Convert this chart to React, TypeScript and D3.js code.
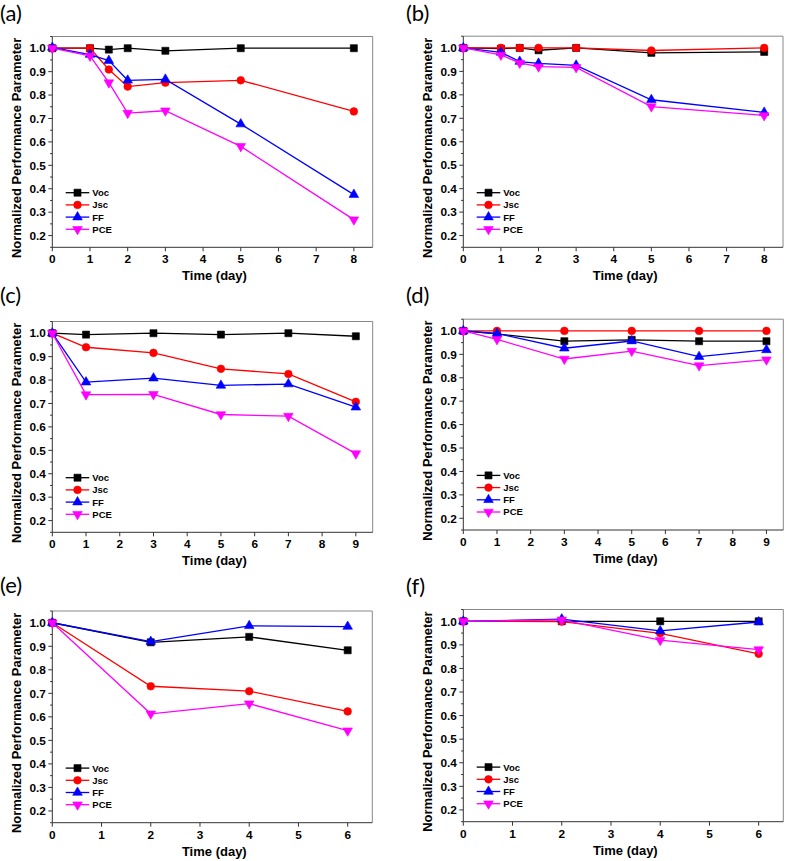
import React from 'react';
import * as d3 from 'd3';

// ---------- data ----------
const seriesNames = ['Voc', 'Jsc', 'FF', 'PCE'];
const seriesColors = ['#000000', '#ff0000', '#0000ff', '#ff00ff'];
const seriesSymbols = ['square', 'circle', 'triangle', 'triangleDown'];

const daysA = [0, 1, 1.5, 2, 3, 5, 8];
const vocA = [1.0, 1.0, 0.994, 1.0, 0.989, 1.0, 1.0];
const jscA = [1.0, 1.0, 0.909, 0.836, 0.853, 0.863, 0.73];
const ffA = [1.003, 0.973, 0.947, 0.863, 0.867, 0.676, 0.375];
const pceA = [1.0, 0.967, 0.853, 0.723, 0.733, 0.581, 0.268];

const daysB = [0, 1, 1.5, 2, 3, 5, 8];
const vocB = [1.0, 0.997, 1.0, 0.99, 1.0, 0.979, 0.983];
const jscB = [1.0, 1.0, 1.0, 1.0, 1.0, 0.989, 1.0];
const ffB = [1.0, 0.981, 0.942, 0.934, 0.926, 0.779, 0.725];
const pceB = [1.0, 0.97, 0.936, 0.92, 0.917, 0.75, 0.712];

const daysC = [0, 1, 3, 5, 7, 9];
const vocC = [1.0, 0.994, 1.0, 0.994, 1.0, 0.987];
const jscC = [1.0, 0.94, 0.916, 0.848, 0.826, 0.707];
const ffC = [1.0, 0.791, 0.808, 0.777, 0.783, 0.684];
const pceC = [1.0, 0.738, 0.739, 0.653, 0.646, 0.486];

const daysD = [0, 1, 3, 5, 7, 9];
const vocD = [1.0, 0.987, 0.956, 0.962, 0.956, 0.956];
const jscD = [1.0, 1.0, 1.0, 1.0, 1.0, 1.0];
const ffD = [1.0, 0.989, 0.926, 0.957, 0.89, 0.919];
const pceD = [1.0, 0.964, 0.88, 0.914, 0.852, 0.877];

const daysE = [0, 2, 4, 6];
const vocE = [1.0, 0.917, 0.94, 0.883];
const jscE = [1.0, 0.73, 0.709, 0.623];
const ffE = [1.0, 0.92, 0.987, 0.984];
const pceE = [1.0, 0.613, 0.656, 0.541];

const daysF = [0, 2, 4, 6];
const vocF = [1.0, 1.0, 1.0, 1.0];
const jscF = [1.0, 0.999, 0.949, 0.862];
const ffF = [1.0, 1.009, 0.959, 0.997];
const pceF = [1.0, 1.006, 0.92, 0.88];

const yTicks = [0.2, 0.3, 0.4, 0.5, 0.6, 0.7, 0.8, 0.9, 1.0];
const yDomain = [0.15, 1.05];
const xLabel = 'Time (day)';
const yLabel = 'Normalized Performance Parameter';

const panelData = [
  { tag: '(a)', days: daysA, series: [vocA, jscA, ffA, pceA], xMax: 8.5, xTicks: [0, 1, 2, 3, 4, 5, 6, 7, 8] },
  { tag: '(b)', days: daysB, series: [vocB, jscB, ffB, pceB], xMax: 8.5, xTicks: [0, 1, 2, 3, 4, 5, 6, 7, 8] },
  { tag: '(c)', days: daysC, series: [vocC, jscC, ffC, pceC], xMax: 9.5, xTicks: [0, 1, 2, 3, 4, 5, 6, 7, 8, 9] },
  { tag: '(d)', days: daysD, series: [vocD, jscD, ffD, pceD], xMax: 9.5, xTicks: [0, 1, 2, 3, 4, 5, 6, 7, 8, 9] },
  { tag: '(e)', days: daysE, series: [vocE, jscE, ffE, pceE], xMax: 6.5, xTicks: [0, 1, 2, 3, 4, 5, 6] },
  { tag: '(f)', days: daysF, series: [vocF, jscF, ffF, pceF], xMax: 6.5, xTicks: [0, 1, 2, 3, 4, 5, 6] },
];

// ---------- layout ----------
const layout = [
  { x0: 52.3, x1: 372.7, y0: 36.5, y1: 247.3, tx: 0, ty: 21 },
  { x0: 463.3, x1: 783, y0: 36.2, y1: 247.3, tx: 406, ty: 21 },
  { x0: 52.3, x1: 372.7, y0: 321.5, y1: 532.3, tx: 0, ty: 303 },
  { x0: 463.3, x1: 783.3, y0: 319.2, y1: 530, tx: 406, ty: 303 },
  { x0: 52.3, x1: 372.3, y0: 611, y1: 822.7, tx: 0, ty: 593 },
  { x0: 463.3, x1: 783.3, y0: 609.5, y1: 821.7, tx: 406, ty: 594 },
];

const FONT = "'Liberation Sans', Arial, sans-serif";

function symbolPath(kind: string) {
  if (kind === 'square') return d3.symbol(d3.symbolSquare, 50)() as string;
  if (kind === 'circle') return d3.symbol(d3.symbolCircle, 46)() as string;
  return d3.symbol(d3.symbolTriangle, 40)() as string;
}

function Marker({ kind, x, y, color }: { kind: string; x: number; y: number; color: string }) {
  const rot = kind === 'triangleDown' ? 180 : 0;
  return (
    <path
      d={symbolPath(kind)}
      transform={`translate(${x},${y}) rotate(${rot})`}
      fill={color}
      stroke={color}
      strokeWidth={0.6}
    />
  );
}

function Panel({ p, l }: { p: typeof panelData[number]; l: typeof layout[number] }) {
  const x = d3.scaleLinear().domain([0, p.xMax]).range([l.x0, l.x1]);
  const y = d3.scaleLinear().domain(yDomain).range([l.y1, l.y0]);
  const line = d3
    .line<[number, number]>()
    .x((d) => x(d[0]))
    .y((d) => y(d[1]));
  const minorY = d3.range(0.15, 1.0501, 0.05).filter((v) => !yTicks.some((t) => Math.abs(t - v) < 1e-6));
  const legendRowY = (i: number) => l.y1 - 54.6 + i * 12.2;
  const legX0 = l.x0 + 13.4;
  const legX1 = l.x0 + 37;
  const legMx = (legX0 + legX1) / 2;
  const midY = (l.y0 + l.y1) / 2;

  return (
    <g>
      <text x={l.tx} y={l.ty} fontFamily="Lato, 'Open Sans', sans-serif" fontSize={22} fill="#000">
        {p.tag}
      </text>
      {/* frame */}
      <line x1={l.x0} x2={l.x1} y1={l.y0} y2={l.y0} stroke="#888" strokeWidth={1} />
      <line x1={l.x1} x2={l.x1} y1={l.y0} y2={l.y1} stroke="#888" strokeWidth={1} />
      <line x1={l.x0} x2={l.x0} y1={l.y0} y2={l.y1} stroke="#333" strokeWidth={1} />
      <line x1={l.x0} x2={l.x1} y1={l.y1} y2={l.y1} stroke="#333" strokeWidth={1} />
      {/* y ticks */}
      {yTicks.map((t) => (
        <g key={'yt' + t}>
          <line x1={l.x0 - 4} x2={l.x0} y1={y(t)} y2={y(t)} stroke="#333" strokeWidth={1} />
          <text
            x={l.x0 - 6.5}
            y={y(t)}
            dy="0.36em"
            textAnchor="end"
            fontFamily={FONT}
            fontWeight="bold"
            fontSize={11.8}
            fill="#000"
          >
            {t.toFixed(1)}
          </text>
        </g>
      ))}
      {minorY.map((t) => (
        <line key={'ym' + t} x1={l.x0 - 2.2} x2={l.x0} y1={y(t)} y2={y(t)} stroke="#333" strokeWidth={1} />
      ))}
      {/* x ticks */}
      {p.xTicks.map((t) => (
        <g key={'xt' + t}>
          <line x1={x(t)} x2={x(t)} y1={l.y1} y2={l.y1 + 4} stroke="#333" strokeWidth={1} />
          <text
            x={x(t)}
            y={l.y1 + 16}
            textAnchor="middle"
            fontFamily={FONT}
            fontWeight="bold"
            fontSize={11.8}
            fill="#000"
          >
            {t}
          </text>
        </g>
      ))}
      <text
        x={(l.x0 + l.x1) / 2 + 2}
        y={l.y1 + 33}
        textAnchor="middle"
        fontFamily={FONT}
        fontWeight="bold"
        fontSize={13}
        fill="#000"
      >
        {xLabel}
      </text>
      <text
        transform={`translate(${l.x0 - 31},${midY + 6}) rotate(-90)`}
        textAnchor="middle"
        fontFamily={FONT}
        fontWeight="bold"
        fontSize={13}
        fill="#000"
      >
        {yLabel}
      </text>
      {/* series */}
      {p.series.map((vals, si) => {
        const pts = p.days.map((d, i) => [d, vals[i]] as [number, number]);
        return (
          <g key={'s' + si}>
            <path d={line(pts) as string} fill="none" stroke={seriesColors[si]} strokeWidth={1.3} />
            {pts.map((pt, i) => (
              <Marker key={i} kind={seriesSymbols[si]} x={x(pt[0])} y={y(pt[1])} color={seriesColors[si]} />
            ))}
          </g>
        );
      })}
      {/* legend */}
      {seriesNames.map((n, si) => (
        <g key={'lg' + n}>
          <line
            x1={legX0}
            x2={legX1}
            y1={legendRowY(si)}
            y2={legendRowY(si)}
            stroke={seriesColors[si]}
            strokeWidth={1.3}
          />
          <Marker kind={seriesSymbols[si]} x={legMx} y={legendRowY(si)} color={seriesColors[si]} />
          <text
            x={legX1 + 3}
            y={legendRowY(si)}
            dy="0.36em"
            fontFamily={FONT}
            fontWeight="bold"
            fontSize={9.5}
            fill="#000"
          >
            {n}
          </text>
        </g>
      ))}
    </g>
  );
}

export default function App() {
  return (
    <svg
      width={787}
      height={861}
      viewBox="0 0 787 861"
      style={{ position: 'absolute', left: 0, top: 0, background: '#fff' }}
    >
      <rect x={0} y={0} width={787} height={861} fill="#fff" />
      {panelData.map((p, i) => (
        <Panel key={p.tag} p={p} l={layout[i]} />
      ))}
    </svg>
  );
}
